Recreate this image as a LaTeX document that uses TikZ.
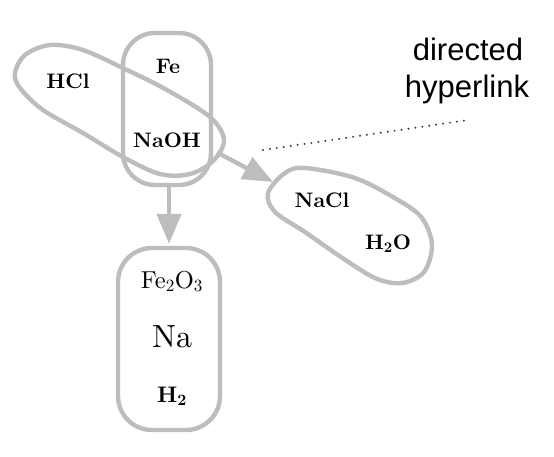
\documentclass[tikz,border=0pt]{standalone}
\usepackage{fontspec}
\newfontfamily\labelfont{Liberation Sans}
\newfontfamily\cmten[Extension=.otf, UprightFont=*-regular, BoldFont=*-bold]{lmroman10}
\usetikzlibrary{arrows.meta}
\definecolor{hgray}{RGB}{189,189,189}
\definecolor{dotgray}{RGB}{60,60,60}
\begin{document}
\begin{tikzpicture}[x=1pt,y=-1pt,
  edge/.style={draw=hgray, line width=4.4pt},
  chem/.style={font=\cmten\fontsize{21}{24}\selectfont\bfseries, anchor=base, inner sep=0pt},
  chemlight/.style={font=\cmten\fontsize{24.5}{28}\selectfont, anchor=base, inner sep=0pt},
  chembig/.style={font=\cmten\fontsize{32}{36}\selectfont, anchor=base, inner sep=0pt},
  chemsmall/.style={font=\cmten\fontsize{22.5}{26}\selectfont\bfseries, anchor=base, inner sep=0pt},
  arr/.style={draw=hgray, line width=4.4pt, -{Triangle[length=30pt,width=24pt]}},
  lab/.style={font=\labelfont\fontsize{31}{37}\selectfont, anchor=base, inner sep=0pt},
  pointer/.style={draw=dotgray, line width=2.2pt, line cap=round, dash pattern=on 0pt off 7pt},
]
\useasboundingbox (0,0) rectangle (554,456);
% hyperedge HCl, NaOH (tilted)
\draw[edge] plot[smooth cycle, tension=0.55] coordinates {
  (15,73) (25,55) (50,45) (83,50) (127,70) (167,90) (210,117) (224,140)
  (213,161) (190,174) (160,174) (123,157) (83,133) (43,110) (20,88)};
% hyperedge Fe, NaOH (vertical)
\node[edge, rounded corners=32pt, minimum width=88pt, minimum height=152pt, inner sep=0pt] (e1) at (167,109) {};
% hyperedge NaCl, H2O
\draw[edge] plot[smooth cycle, tension=0.55] coordinates {
  (268,193) (285,173) (305,168) (355,178) (398,200) (422,218) (432,245)
  (424,272) (402,283) (375,278) (338,255) (305,232) (275,212)};
% hyperedge Fe2O3, Na, H2
\node[edge, rounded corners=34pt, minimum width=102pt, minimum height=182pt, inner sep=0pt] (e3) at (169,339) {};

% texts
\node[chem] (hcl) at (68,88) {HCl};
\node[chem] (fe) at (168,73) {Fe};
\node[chem] (naoh) at (167,147) {NaOH};
\node[chem] (nacl) at (322,207) {NaCl};
\node[chem] (h2o) at (388,249) {H\textsubscript{2}O};
\node[chemlight] (fe2o3) at (172,288) {Fe\textsubscript{2}O\textsubscript{3}};
\node[chembig] (na) at (172,347) {Na};
\node[chemsmall] (h2) at (172,402) {H\textsubscript{2}};

% connectors
\coordinate (a1) at (220,154);
\coordinate (a2) at (273,182);
\draw[arr] (a1) -- (a2);
\draw[arr, shorten >=2pt] (e1.south -| e3.north) -- (e3.north);

% label
\node[lab] (l1) at (468,60) {directed};
\node[lab] (l2) at (467,97) {hyperlink};
\coordinate (d1) at (263,150);
\coordinate (d2) at (468,120);
\draw[pointer] (d1) -- (d2);
\end{tikzpicture}
\end{document}
